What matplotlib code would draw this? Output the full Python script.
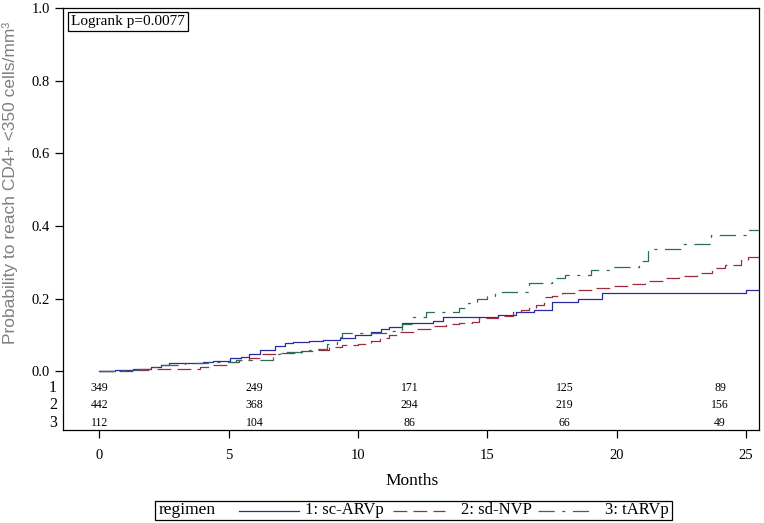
import matplotlib
matplotlib.use("Agg")
import matplotlib.pyplot as plt
from matplotlib.lines import Line2D
from matplotlib.patches import Rectangle
from matplotlib.transforms import blended_transform_factory

# step curves (months, cumulative probability)
t_sc = [0, 0.6, 1.3, 2.0, 2.4, 2.7, 3.4, 4.0, 4.4, 5.06, 5.5, 5.8, 6.2, 6.8, 7.2, 7.5,
        8.1, 8.65, 9.3, 9.9, 10.5, 10.9, 11.2, 11.7, 12.9, 13.3, 15.4, 16.1, 16.8,
        17.5, 18.5, 19.45, 25.0, 25.5]
p_sc = [0, 0.003, 0.006, 0.012, 0.017, 0.022, 0.023, 0.026, 0.03, 0.036, 0.04, 0.047,
        0.058, 0.07, 0.078, 0.08, 0.084, 0.088, 0.093, 0.1, 0.108, 0.117, 0.123, 0.133,
        0.14, 0.15, 0.155, 0.163, 0.17, 0.19, 0.2, 0.215, 0.224, 0.224]

t_sd = [0, 1.3, 1.9, 3.0, 3.9, 4.4, 5.06, 5.4, 5.8, 6.3, 7.0, 7.8, 8.3, 8.9, 9.4, 10.0,
        10.5, 10.85, 11.2, 11.6, 12.3, 12.9, 13.4, 13.9, 14.4, 14.7, 15.4, 16.0, 16.3,
        16.6, 16.9, 17.2, 17.5, 17.9, 18.5, 19.1, 19.8, 20.6, 21.1, 21.8, 22.4, 23.1,
        23.7, 24.2, 24.8, 25.1, 25.5]
p_sd = [0, 0.003, 0.006, 0.008, 0.012, 0.017, 0.026, 0.032, 0.038, 0.047, 0.051, 0.056,
        0.06, 0.066, 0.072, 0.077, 0.084, 0.091, 0.1, 0.109, 0.117, 0.126, 0.131, 0.134,
        0.137, 0.148, 0.153, 0.165, 0.169, 0.176, 0.183, 0.205, 0.209, 0.216, 0.225,
        0.23, 0.234, 0.241, 0.248, 0.257, 0.264, 0.271, 0.285, 0.294, 0.308, 0.316, 0.316]

t_ta = [0, 0.7, 1.5, 2.0, 2.4, 3.3, 4.2, 5.3, 6.7, 7.0, 8.1, 8.3, 8.8, 9.2, 9.4, 11.1,
        11.7, 12.1, 12.65, 13.9, 14.25, 14.6, 15.0, 15.3, 16.6, 17.5, 18.0, 19.0, 19.85,
        20.85, 21.2, 22.5, 23.65, 25.05, 25.5]
p_ta = [0, 0.003, 0.006, 0.012, 0.018, 0.022, 0.026, 0.032, 0.049, 0.054, 0.058, 0.063,
        0.077, 0.095, 0.105, 0.112, 0.132, 0.151, 0.165, 0.174, 0.188, 0.2, 0.209, 0.22,
        0.243, 0.256, 0.265, 0.279, 0.288, 0.304, 0.338, 0.352, 0.376, 0.39, 0.39]

labels = ["1: sc-ARVp", "2: sd-NVP", "3: tARVp"]
risk_times = [0, 6, 12, 18, 24]
risk_sc = [349, 249, 171, 125, 89]
risk_sd = [442, 368, 294, 219, 156]
risk_ta = [112, 104, 86, 66, 49]

colors = ["#2a2aa2", "#a02a3c", "#2b6e5c"]
styles = ["-", (0, (11, 5)), (0, (13, 6, 2.5, 6))]
serif = "Liberation Serif"

fig = plt.figure(figsize=(7.64, 5.23), dpi=100)
ax = fig.add_axes([0.0825, 0.1778, 0.911, 0.8069])

curves = [(t_sc, p_sc), (t_sd, p_sd), (t_ta, p_ta)]
for (t, p), c, ls in zip(curves, colors, styles):
    ax.step(t, p, where="post", color=c, lw=0.9, linestyle=ls)

ax.set_xlim(-1.4, 25.51)
ax.set_ylim(-0.161, 1.0)
ax.set_xticks([0, 5, 10, 15, 20, 25])
ax.set_yticks([0.0, 0.2, 0.4, 0.6, 0.8, 1.0])
ax.set_yticklabels(["0.0", "0.2", "0.4", "0.6", "0.8", "1.0"])
ax.tick_params(direction="out", length=6, width=0.9, labelsize=10.5)
ax.tick_params(axis="x", pad=8)
for lab in ax.get_xticklabels() + ax.get_yticklabels():
    lab.set_fontfamily(serif)
for s in ax.spines.values():
    s.set_linewidth(0.9)

ax.set_xlabel("Months", fontsize=12.5, family=serif)
ax.xaxis.set_label_coords(0.502, -0.102)
ax.set_ylabel("Probability to reach CD4+ <350 cells/mm³", fontsize=12.5,
              family="Liberation Sans", color="#808080")
ax.yaxis.set_label_coords(-0.064, 0.586)

# numbers at risk table inside the axes
row_y = [-0.046, -0.093, -0.141]
trans = blended_transform_factory(ax.transAxes, ax.transData)
for i, (row, y) in enumerate(zip([risk_sc, risk_sd, risk_ta], row_y)):
    ax.text(-0.009, y, str(i + 1), transform=trans, ha="right", va="center",
            fontsize=11.5, family=serif)
    for tm, n in zip(risk_times, row):
        ax.text(tm, y, str(n), ha="center", va="center", fontsize=8.5, family=serif)

ax.text(0.011, 0.984, "Logrank p=0.0077", transform=ax.transAxes, ha="left", va="top",
        fontsize=11, family=serif,
        bbox=dict(boxstyle="square,pad=0.2", fc="white", ec="black", lw=0.9))

# legend strip along the bottom
W, H = 764.0, 523.0
fig.add_artist(Rectangle((155 / W, 1 - 520 / H), 517 / W, 19 / H,
                         transform=fig.transFigure, fill=False, ec="black", lw=0.9))
ly = 1 - 510.5 / H
fig.text(159 / W, ly, "regimen", ha="left", va="center", fontsize=12.5, family=serif)
line_x = [(239, 299), (393, 445), (538, 595)]
text_x = [305, 461, 605]
for (x0, x1), tx, lab, c, ls in zip(line_x, text_x, labels, colors, styles):
    fig.add_artist(Line2D([x0 / W, x1 / W], [ly, ly], transform=fig.transFigure,
                          color=c, lw=0.9, linestyle=ls))
    fig.text(tx / W, ly, lab, ha="left", va="center", fontsize=12, family=serif)

fig.savefig("out.png", dpi=100)
